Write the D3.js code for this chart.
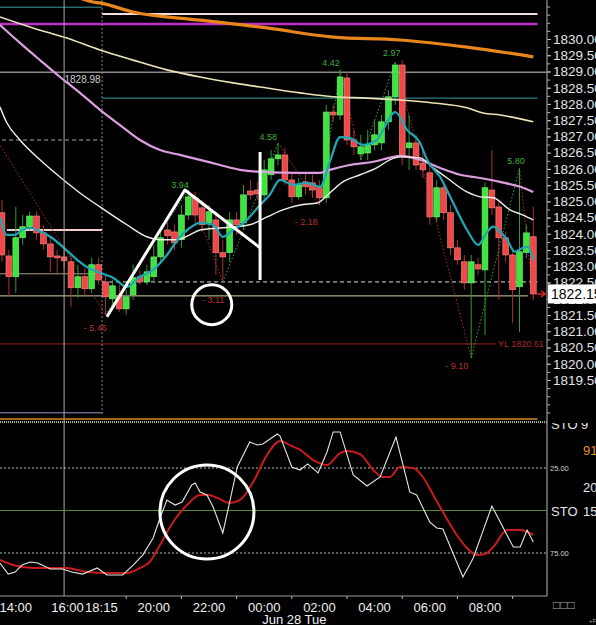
<!DOCTYPE html>
<html>
<head>
<meta charset="utf-8">
<script src="https://cdn.jsdelivr.net/npm/d3@7"></script>
<style>
  body { margin: 0; background: #000; }
  svg { display: block; font-family: "Liberation Sans", Arial, sans-serif; }
</style>
</head>
<body>
<svg id="chart" width="596" height="625"></svg>
<script>
// 15 min bars: open, high, low, close
var candles = [
  [1824.65,1825.05,1823.14,1823.35],[1823.32,1823.51,1822.06,1822.68],[1822.68,1824.83,1822.18,1823.88],
  [1823.88,1824.58,1823.66,1824.22],[1824.22,1824.68,1824.12,1824.55],[1824.55,1824.68,1823.82,1824.03],
  [1824.03,1824.28,1823.51,1823.69],[1823.69,1823.94,1822.83,1823.29],[1823.32,1823.51,1822.74,1823.26],
  [1823.29,1823.51,1822.95,1823.17],[1823.14,1823.35,1821.75,1822.34],[1822.34,1823.05,1822.03,1822.68],
  [1822.68,1822.95,1822.09,1822.31],[1822.31,1823.26,1822.18,1823.05],[1823.05,1823.26,1822.43,1822.58],
  [1822.52,1822.74,1821.51,1822.06],[1822.00,1822.58,1821.82,1822.40],[1822.09,1822.43,1821.60,1821.69],
  [1821.69,1822.28,1821.51,1822.06],[1822.12,1823.05,1821.97,1822.65],[1822.68,1822.89,1822.43,1822.52],
  [1822.52,1823.05,1822.43,1822.83],[1822.68,1823.66,1822.52,1823.29],[1823.29,1824.12,1823.14,1823.88],
  [1824.12,1824.37,1823.66,1823.94],[1824.06,1824.28,1823.51,1823.72],[1823.82,1824.89,1823.57,1824.58],
  [1824.58,1825.35,1824.43,1825.14],[1825.11,1825.29,1824.28,1824.58],[1824.80,1825.05,1824.06,1824.28],
  [1824.34,1824.89,1823.82,1824.68],[1824.43,1824.68,1822.74,1823.42],[1823.42,1823.82,1822.52,1823.29],
  [1823.42,1824.68,1823.14,1824.43],[1824.43,1824.68,1823.97,1824.28],[1824.34,1825.51,1824.12,1825.20],
  [1825.32,1825.66,1825.05,1825.20],[1825.35,1825.60,1825.05,1825.23],[1825.20,1826.28,1825.05,1825.97],
  [1825.82,1826.58,1825.66,1826.31],[1826.31,1826.80,1826.12,1826.43],[1826.43,1826.65,1825.51,1825.66],
  [1825.66,1825.91,1824.95,1825.14],[1825.14,1825.72,1825.05,1825.51],[1825.60,1825.91,1825.20,1825.45],
  [1825.57,1825.82,1825.11,1825.35],[1825.42,1825.66,1824.89,1825.11],[1825.11,1827.97,1824.95,1827.75],
  [1827.75,1827.97,1827.45,1827.66],[1827.66,1829.05,1827.51,1828.83],[1828.80,1828.98,1826.74,1826.89],
  [1826.89,1827.20,1826.43,1826.68],[1826.46,1827.05,1826.28,1826.68],[1826.49,1827.20,1826.28,1826.74],
  [1826.74,1827.51,1826.58,1827.05],[1826.80,1827.66,1826.58,1827.45],[1827.45,1828.43,1827.20,1828.22],
  [1828.22,1829.29,1827.97,1829.20],[1829.20,1829.35,1826.12,1826.37],[1826.65,1827.66,1825.97,1826.80],
  [1826.80,1827.05,1825.97,1826.12],[1826.18,1826.58,1825.72,1825.97],[1825.88,1826.12,1824.28,1824.52],
  [1824.52,1825.66,1824.37,1825.42],[1825.42,1825.60,1824.43,1824.65],[1824.65,1824.89,1823.35,1823.57],
  [1823.57,1823.82,1823.05,1823.20],[1823.14,1823.35,1822.28,1822.49],[1822.49,1823.35,1820.18,1823.14],
  [1823.05,1823.26,1822.74,1822.92],[1822.89,1825.57,1820.89,1825.42],[1825.35,1826.58,1824.58,1824.80],
  [1824.83,1825.05,1821.97,1823.88],[1823.88,1824.06,1823.14,1823.35],[1823.35,1823.57,1821.26,1822.28],
  [1822.37,1826.03,1820.98,1823.45],[1823.42,1824.28,1823.26,1824.03],[1823.91,1824.83,1821.97,1822.15]
];

// moving averages, [bar index, price]
var maCyan = [[-0.3,1824.52],[0.7,1823.97],[1.9,1823.97],[2.9,1824.12],[4.1,1824.18],[5.1,1824.12],[7.0,1823.91],
  [8.8,1823.60],[10.9,1823.20],[12.3,1822.98],[14.2,1822.80],[16.1,1822.65],[18.1,1822.37],[20.0,1822.68],
  [21.9,1822.89],[23.9,1823.35],[25.8,1823.91],[27.2,1824.18],[28.7,1824.34],[30.6,1824.28],[32.0,1823.91],
  [33.5,1824.12],[35.5,1824.43],[37.4,1824.89],[38.8,1825.20],[40.3,1825.66],[42.2,1825.51],[44.2,1825.57],
  [46.1,1825.45],[47.5,1826.22],[49.0,1826.98],[50.4,1826.95],[52.3,1826.74],[54.3,1826.89],[57.0,1827.75],
  [58.7,1827.20],[60.6,1826.80],[61.6,1826.28],[63.5,1825.75],[65.4,1824.95],[67.4,1824.12],[69.0,1823.66],
  [70.3,1824.06],[71.2,1824.22],[72.2,1824.06],[73.2,1823.82],[74.3,1823.45],[75.5,1823.57],[76.2,1823.60],
  [77.0,1823.20]];
var maWhite = [[-0.3,1827.91],[0.7,1827.42],[2.6,1826.89],[5.5,1826.28],[8.4,1825.75],[11.3,1825.26],
  [14.2,1824.83],[18.1,1824.28],[21.0,1823.91],[22.9,1823.82],[25.4,1823.82],[27.2,1823.97],[28.7,1824.12],
  [31.6,1824.18],[35.9,1824.28],[38.4,1824.52],[40.7,1824.74],[43.2,1824.89],[45.7,1824.95],[47.5,1825.26],
  [49.4,1825.60],[51.9,1825.82],[54.3,1826.03],[56.2,1826.28],[57.7,1826.37],[60.6,1826.34],[62.5,1826.03],
  [64.5,1825.72],[67.4,1825.29],[69.3,1825.14],[71.2,1825.11],[73.6,1824.74],[75.5,1824.58],[77.0,1824.43]];
var maPink = [[-0.3,1830.43],[2.6,1829.88],[5.5,1829.35],[8.4,1828.83],[11.3,1828.34],[14.2,1827.82],
  [17.1,1827.35],[20.0,1826.89],[22.9,1826.58],[25.8,1826.43],[28.7,1826.28],[31.6,1826.12],[34.5,1825.97],
  [37.4,1825.91],[43.2,1825.88],[46.1,1825.88],[47.5,1825.97],[50.4,1826.12],[53.8,1826.22],[56.7,1826.37],
  [57.7,1826.40],[60.6,1826.28],[63.5,1826.03],[66.4,1825.82],[69.3,1825.72],[72.2,1825.60],[75.1,1825.45],
  [77.0,1825.29]];
var maCream = [[-0.3,1830.68],[4.5,1830.34],[9.4,1830.03],[14.2,1829.66],[19.0,1829.35],[23.9,1829.05],
  [28.7,1828.83],[33.5,1828.65],[38.4,1828.49],[43.2,1828.34],[48.0,1828.22],[52.9,1828.18],[57.7,1828.12],
  [62.5,1828.03],[67.4,1827.88],[69.7,1827.72],[72.2,1827.66],[77.0,1827.45]];
var maOrange = [[11.3,1831.26],[13.2,1831.14],[14.2,1831.11],[19.0,1830.83],[28.7,1830.58],[38.4,1830.34],
  [48.0,1830.06],[57.7,1829.97],[67.4,1829.75],[77.0,1829.45]];

// horizontal price levels
var levelPrices = [1830.98, 1830.77, 1830.46, 1828.98, 1828.18, 1826.89, 1824.12, 1822.77, 1822.52, 1822.09, 1820.61, 1818.49];

// zigzag swing points and their labels
var zigIdx = [-1, 15, 27, 32, 40, 46, 49, 52, 57, 68, 75, 77];
var zigPrice = [1826.98, 1821.51, 1825.35, 1822.52, 1826.80, 1824.89, 1829.05, 1826.28, 1829.29, 1820.18, 1826.03, 1821.97];
var swingText = ['3.94', '4.58', '4.42', '2.97', '5.80', '- 5.46', '- 3.11', '- 2.18', '- 9.10'];
var swingIdx = [25.8, 38.6, 47.7, 56.5, 74.5, 13.5, 30.6, 44.1, 65.9];
var swingPrice = [1825.51, 1826.98, 1829.26, 1829.57, 1826.25, 1821.11, 1821.97, 1824.37, 1819.94];

// stochastic (axis runs 0 at top)
var stoK = [[-0.3,80.9],[0.9,87.4],[1.9,86.2],[2.9,82.1],[4.1,80.3],[5.2,80.9],[7.0,84.4],[8.8,84.4],[10.1,86.2],
  [11.7,87.4],[13.8,83.8],[15.2,87.9],[17.5,87.9],[19.0,82.1],[20.4,76.2],[21.9,66.2],[22.9,54.4],[23.9,43.8],
  [25.1,46.8],[26.1,45.0],[27.5,35.0],[28.0,33.8],[28.7,39.1],[29.7,40.9],[30.6,47.9],[32.0,63.2],[33.0,45.0],
  [34.1,24.4],[35.9,9.7],[37.0,11.5],[37.8,10.9],[39.9,5.0],[40.3,6.2],[42.0,24.4],[43.2,26.2],[44.3,22.6],
  [45.8,27.9],[47.1,15.6],[48.0,3.8],[49.0,3.8],[50.9,29.1],[52.9,35.6],[54.8,30.3],[57.1,6.8],[59.1,39.1],
  [60.1,40.9],[62.0,56.8],[63.0,60.3],[63.9,60.9],[66.8,89.1],[68.3,77.9],[71.0,47.4],[74.1,71.5],[75.1,71.5],
  [76.1,61.5],[77.0,68.5]];
var stoD = [[-0.3,79.1],[1.6,82.1],[4.5,83.8],[7.0,83.8],[9.4,83.8],[12.3,86.2],[15.2,86.8],[18.1,86.8],
  [20.0,83.8],[21.4,80.3],[22.9,70.3],[24.8,56.8],[26.8,46.8],[28.7,40.9],[29.9,40.9],[31.2,42.6],[33.0,45.6],
  [34.5,43.8],[36.4,33.2],[38.4,17.4],[40.3,9.1],[41.7,11.5],[43.2,14.4],[45.1,20.3],[47.1,23.2],[49.0,16.2],
  [50.0,15.0],[51.9,16.8],[53.8,26.2],[55.2,30.3],[56.2,30.3],[57.7,24.4],[59.6,25.0],[61.0,30.3],[62.5,40.9],
  [63.9,50.9],[65.9,64.4],[67.4,72.1],[68.8,76.2],[70.0,75.6],[71.2,71.5],[73.2,61.5],[75.1,61.5],[77.0,64.4]];
var stoLevels = [25, 50, 75];

// axis labels
var priceTicks = [1830.00, 1829.50, 1829.00, 1828.50, 1828.00, 1827.50, 1827.00, 1826.50, 1826.00, 1825.50, 1825.00,
  1824.50, 1824.00, 1823.50, 1823.00, 1822.50, 1822.00, 1821.50, 1821.00, 1820.50, 1820.00, 1819.50];
var lastPrice = 1822.15;
var timeLabels = ['14:00', '16:00', '18:15', '20:00', '22:00', '00:00', '02:00', '04:00', '06:00', '08:00'];
var timeIdx = [2, 9.5, 14.4, 22, 30, 38, 46, 54, 62, 70];
var hourTicks = [18, 26, 34, 42, 50, 58, 66, 74];
var dateLabel = 'Jun 28 Tue';

// hand drawn marks, in bar index / price
var markLines = [[15.2, 1821.45], [26.5, 1825.35], [37.4, 1823.57]];
var markBar = [[37.4, 1826.52], [37.4, 1822.58]];
var markCircle = [30.4, 1821.82];
var stoCircle = [29.7, 50.9];

var svg = d3.select('#chart');
var W = 596, axisX = 547, mainBottom = 416, stoTop = 423, stoBottom = 596;

var x = d3.scaleLinear().domain([0, 77]).range([2, 533.3]);
var y = d3.scaleLinear().domain([1819.5, 1830]).range([380, 39]);
var ys = d3.scaleLinear().domain([0, 100]).range([425.5, 595.5]);

svg.append('rect').attr('width', W).attr('height', 625).attr('fill', '#000');

var defs = svg.append('defs');
defs.append('clipPath').attr('id', 'clipMain')
  .append('rect').attr('x', 0).attr('y', 0).attr('width', axisX).attr('height', mainBottom);
defs.append('clipPath').attr('id', 'clipSto')
  .append('rect').attr('x', 0).attr('y', stoTop).attr('width', axisX).attr('height', stoBottom - stoTop);
defs.append('clipPath').attr('id', 'clipStoAxis')
  .append('rect').attr('x', axisX).attr('y', stoTop).attr('width', W - axisX).attr('height', stoBottom - stoTop);

var main = svg.append('g').attr('clip-path', 'url(#clipMain)');

//price levels
var levelStyle = [
  {from: -1, to: 14.5, stroke: '#3a9c9c', w: 1},
  {from: 14.5, to: 77.6, stroke: '#f2dede', w: 2},
  {from: -1, to: 77.6, stroke: '#c030c8', w: 2.5},
  {from: -1, to: 80, stroke: '#8a8a8a', w: 1.5},
  {from: 14.5, to: 77.6, stroke: '#3a9c9c', w: 1},
  {from: -1, to: 14.5, stroke: '#aaaaaa', w: 1, dash: '4,3'},
  {from: 0.7, to: 14.5, stroke: '#f0cccc', w: 2},
  {from: -1, to: 14.5, stroke: '#b0a080', w: 1},
  {from: 14.5, to: 77.6, stroke: '#dddddd', w: 1, dash: '4,3'},
  {from: -1, to: 76.2, stroke: '#d8d0a4', w: 1},
  {from: -1, to: 71.6, stroke: '#a02020', w: 1},
  {from: -1, to: 14.5, stroke: '#9898c8', w: 1}
];
levelPrices.forEach(function(p, i) {
  var s = levelStyle[i];
  main.append('line')
    .attr('x1', x(s.from)).attr('x2', x(s.to))
    .attr('y1', y(p)).attr('y2', y(p))
    .attr('stroke', s.stroke).attr('stroke-width', s.w)
    .attr('stroke-dasharray', s.dash || null);
});

main.append('text').attr('x', x(14.3)).attr('y', y(levelPrices[3]) + 11)
  .attr('text-anchor', 'end').attr('fill', '#cfcfcf').attr('font-size', 10).text(levelPrices[3].toFixed(2));
main.append('text').attr('x', x(71.6) + 2).attr('y', y(levelPrices[10]) + 3.5)
  .attr('fill', '#b02828').attr('font-size', 9).text('YL ' + levelPrices[10].toFixed(2));

//session lines
svg.append('line').attr('x1', x(9)).attr('x2', x(9)).attr('y1', 0).attr('y2', stoBottom)
  .attr('stroke', '#a8a8a8').attr('stroke-width', 1);
main.append('line').attr('x1', x(14.5)).attr('x2', x(14.5)).attr('y1', 0).attr('y2', mainBottom)
  .attr('stroke', '#888').attr('stroke-dasharray', '2,2');

//zigzag
for (var k = 0; k < zigIdx.length - 1; k++) {
  var up = zigPrice[k + 1] > zigPrice[k];
  main.append('line')
    .attr('x1', x(zigIdx[k])).attr('y1', y(zigPrice[k]))
    .attr('x2', x(zigIdx[k + 1])).attr('y2', y(zigPrice[k + 1]))
    .attr('stroke', up ? '#3aa83a' : '#a83030')
    .attr('stroke-width', 1).attr('stroke-dasharray', '1.5,2');
}
swingText.forEach(function(t, i) {
  main.append('text').attr('x', x(swingIdx[i])).attr('y', y(swingPrice[i]) + 3)
    .attr('text-anchor', 'middle').attr('font-size', 9)
    .attr('fill', t.charAt(0) == '-' ? '#b83030' : '#3cae3c').text(t);
});

//candles
var bars = main.selectAll('g.bar').data(candles).enter().append('g').attr('class', 'bar');
bars.append('line')
  .attr('x1', function(d, i) { return x(i); }).attr('x2', function(d, i) { return x(i); })
  .attr('y1', function(d) { return y(d[1]); }).attr('y2', function(d) { return y(d[2]); })
  .attr('stroke', function(d) { return d[3] >= d[0] ? '#2f9a2f' : '#a83232'; })
  .attr('stroke-width', 1);
bars.append('rect')
  .attr('x', function(d, i) { return x(i) - 2.9; })
  .attr('width', 5.8)
  .attr('y', function(d) { return y(Math.max(d[0], d[3])); })
  .attr('height', function(d) { return Math.max(1.5, Math.abs(y(d[0]) - y(d[3]))); })
  .attr('fill', function(d) { return d[3] >= d[0] ? '#3ee43e' : '#f04848'; })
  .attr('stroke', function(d) { return d[3] >= d[0] ? '#7cf27c' : '#f78a8a'; })
  .attr('stroke-width', 0.6);

//moving averages
var maLine = d3.line().x(function(d) { return x(d[0]); }).y(function(d) { return y(d[1]); }).curve(d3.curveMonotoneX);
[[maOrange, '#e8861c', 3.2], [maCream, '#ece4b8', 1.6], [maPink, '#dc9ee0', 2.2],
 [maWhite, '#eeeeea', 1.4], [maCyan, '#1fa8b4', 2.2]].forEach(function(m) {
  main.append('path').datum(m[0]).attr('d', maLine)
    .attr('fill', 'none').attr('stroke', m[1]).attr('stroke-width', m[2]);
});

//hand drawn marks
var markLine = d3.line().x(function(d) { return x(d[0]); }).y(function(d) { return y(d[1]); });
main.append('path').datum(markLines).attr('d', markLine)
  .attr('fill', 'none').attr('stroke', '#fff').attr('stroke-width', 3).attr('stroke-linejoin', 'round');
main.append('path').datum(markBar).attr('d', markLine)
  .attr('fill', 'none').attr('stroke', '#fff').attr('stroke-width', 3);
main.append('circle').attr('cx', x(markCircle[0])).attr('cy', y(markCircle[1])).attr('r', 20)
  .attr('fill', 'none').attr('stroke', '#fff').attr('stroke-width', 3);

//last price arrow
main.append('path')
  .attr('d', 'M' + (x(77) + 3) + ',' + y(lastPrice) + 'h9 m-4,-3 l4,3 l-4,3')
  .attr('fill', 'none').attr('stroke', '#e02020').attr('stroke-width', 1.5);

//price axis
var yMinor = d3.axisRight(y).tickValues(d3.range(1818, 1831.01, 0.25)).tickSize(3).tickFormat('');
var yAxis = d3.axisRight(y).tickValues(priceTicks).tickSize(4).tickPadding(2).tickFormat(d3.format('.2f'));
var gy = svg.append('g').attr('transform', 'translate(' + axisX + ',0)').call(yMinor);
var gy2 = svg.append('g').attr('transform', 'translate(' + axisX + ',0)').call(yAxis);
[gy, gy2].forEach(function(g) {
  g.select('.domain').remove();
  g.selectAll('line').attr('stroke', '#bbb');
  g.selectAll('.tick').filter(function(d) { return y(d) > mainBottom || y(d) < 0; }).remove();
});
gy2.selectAll('text').attr('fill', '#e4e4e4').attr('font-size', 13.5)
  .attr('font-family', '"Liberation Sans", Arial, sans-serif');

svg.append('rect').attr('x', axisX + 1).attr('y', y(lastPrice) - 9.5).attr('width', 50).attr('height', 19).attr('fill', '#fff');
svg.append('text').attr('x', axisX + 4).attr('y', y(lastPrice) + 5.5).attr('fill', '#000')
  .attr('font-size', 14).text(lastPrice.toFixed(2));

svg.append('line').attr('x1', axisX).attr('x2', axisX).attr('y1', 0).attr('y2', stoBottom)
  .attr('stroke', '#9a9a9a').attr('stroke-width', 1.2);

//panel separator
svg.append('line').attr('x1', 0).attr('x2', x(77.6)).attr('y1', 419).attr('y2', 419)
  .attr('stroke', '#d8861c').attr('stroke-width', 1.5);
svg.append('line').attr('x1', 0).attr('x2', axisX).attr('y1', 422).attr('y2', 422)
  .attr('stroke', '#a9b894').attr('stroke-width', 2).attr('stroke-dasharray', '1,1');

//stochastic panel
var sto = svg.append('g').attr('clip-path', 'url(#clipSto)');
stoLevels.forEach(function(v) {
  sto.append('line').attr('x1', 0).attr('x2', axisX).attr('y1', ys(v)).attr('y2', ys(v))
    .attr('stroke', v == 50 ? '#5a8a36' : '#bbbbbb').attr('stroke-width', 1)
    .attr('stroke-dasharray', v == 50 ? null : '2,2');
});
var stoLine = d3.line().x(function(d) { return x(d[0]); }).y(function(d) { return ys(d[1]); });
sto.append('path').datum(stoD).attr('d', stoLine.curve(d3.curveMonotoneX))
  .attr('fill', 'none').attr('stroke', '#c81c1c').attr('stroke-width', 2);
sto.append('path').datum(stoK).attr('d', stoLine.curve(d3.curveLinear))
  .attr('fill', 'none').attr('stroke', '#e6e6e6').attr('stroke-width', 1.1);
sto.append('circle').attr('cx', x(stoCircle[0])).attr('cy', ys(stoCircle[1])).attr('r', 47)
  .attr('fill', 'none').attr('stroke', '#fff').attr('stroke-width', 3);

//stochastic axis texts (top one is cut by the panel edge)
var stoAx = svg.append('g').attr('clip-path', 'url(#clipStoAxis)');
stoAx.append('text').attr('x', 551).attr('y', 429).attr('fill', '#e4e4e4').attr('font-size', 13).text('STO 9');
stoAx.append('text').attr('x', 583).attr('y', 455).attr('fill', '#e8902a').attr('font-size', 13).text('91');
stoAx.append('text').attr('x', 583).attr('y', 492).attr('fill', '#e4e4e4').attr('font-size', 13).text('20');
stoAx.append('text').attr('x', 551).attr('y', ys(50) + 5).attr('fill', '#e4e4e4').attr('font-size', 13).text('STO');
stoAx.append('text').attr('x', 583).attr('y', ys(50) + 5).attr('fill', '#e4e4e4').attr('font-size', 13).text('15');
[25, 75].forEach(function(v) {
  stoAx.append('text').attr('x', 550).attr('y', ys(v) + 3).attr('fill', '#cfcfcf').attr('font-size', 7.5).text(v.toFixed(2));
});

//time axis
svg.append('line').attr('x1', 0).attr('x2', axisX).attr('y1', stoBottom).attr('y2', stoBottom)
  .attr('stroke', '#9a9a9a').attr('stroke-width', 1.2);
hourTicks.forEach(function(i) {
  svg.append('line').attr('x1', x(i)).attr('x2', x(i)).attr('y1', stoBottom).attr('y2', stoBottom + 3)
    .attr('stroke', '#bbb');
});
timeLabels.forEach(function(t, i) {
  svg.append('text').attr('x', x(timeIdx[i])).attr('y', 612).attr('text-anchor', 'middle')
    .attr('fill', '#f0f0f0').attr('font-size', 13).text(t);
});
svg.append('text').attr('x', x(38) - 2).attr('y', 624).attr('fill', '#f0f0f0').attr('font-size', 13).text(dateLabel);
svg.append('text').attr('x', 553).attr('y', 609).attr('fill', '#aaa').attr('font-size', 12).text('□□□');
svg.append('text').attr('x', 589).attr('y', 623).attr('fill', '#aaa').attr('font-size', 6).text('+F');
</script>
</body>
</html>
